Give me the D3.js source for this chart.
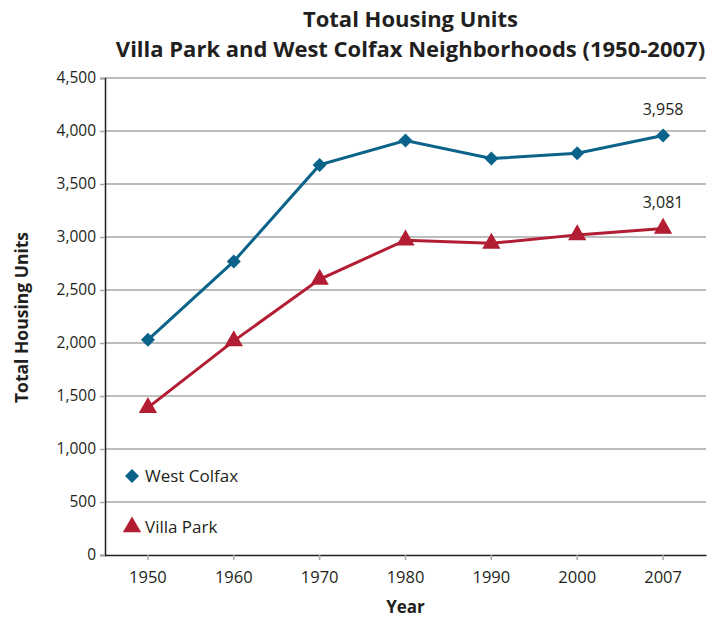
<!DOCTYPE html>
<html>
<head>
<meta charset="utf-8">
<script src="https://cdn.jsdelivr.net/npm/d3@7"></script>
<style>
  body { margin: 0; background: #fff; }
  svg text { font-family: "Open Sans", "Noto Sans", sans-serif; fill: #231f20; }
</style>
</head>
<body>
<div id="chart"></div>
<script>
var years = ["1950", "1960", "1970", "1980", "1990", "2000", "2007"];
var westColfax = [2030, 2770, 3680, 3910, 3740, 3790, 3958];
var villaPark = [1390, 2020, 2600, 2970, 2940, 3020, 3081];
var yTicks = [0, 500, 1000, 1500, 2000, 2500, 3000, 3500, 4000, 4500];
var titleLines = ["Total Housing Units", "Villa Park and West Colfax Neighborhoods (1950-2007)"];

var series = [
    { name: "West Colfax", values: westColfax, color: "#0b6389", symbol: d3.symbolDiamond2, size: 125 },
    { name: "Villa Park", values: villaPark, color: "#b21d33", symbol: d3.symbolTriangle, size: 145 }
];

var W = 714, H = 617;
var margin = { top: 78, right: 8, bottom: 62, left: 105 },
    width = W - margin.left - margin.right,
    height = H - margin.top - margin.bottom;

var svg = d3.select("#chart").append("svg")
    .attr("width", W)
    .attr("height", H);

var g = svg.append("g")
    .attr("transform", "translate(" + margin.left + "," + margin.top + ")");

var x = d3.scaleBand().domain(years).range([0, width]);
var y = d3.scaleLinear().domain([0, 4500]).range([height, 0]);

// gridlines
g.append("g")
    .selectAll("line")
    .data(yTicks.slice(1))
    .join("line")
    .attr("x1", 0)
    .attr("x2", width)
    .attr("y1", d => y(d))
    .attr("y2", d => y(d))
    .attr("stroke", "#a7a7a7")
    .attr("stroke-width", 1.5);

// y axis
var yAxis = g.append("g")
    .call(d3.axisLeft(y).tickValues(yTicks).tickSize(5).tickPadding(4).tickFormat(d3.format(",")));
yAxis.select(".domain").attr("stroke", "#231f20").attr("stroke-width", 1.5);
yAxis.selectAll(".tick line").attr("stroke", "#a7a7a7").attr("stroke-width", 1.5);
yAxis.selectAll("text").style("font-size", "15.5px").attr("fill", "#231f20");

// x axis
var xAxis = g.append("g")
    .attr("transform", "translate(0," + height + ")")
    .call(d3.axisBottom(x).tickSize(5).tickSizeOuter(0).tickPadding(11));
xAxis.select(".domain").attr("stroke", "#231f20").attr("stroke-width", 1.5);
xAxis.selectAll(".tick line").attr("stroke", "#a7a7a7").attr("stroke-width", 1.5);
xAxis.selectAll("text").style("font-size", "16.5px").attr("fill", "#231f20");

// lines and markers
var line = d3.line()
    .x((d, i) => x(years[i]) + x.bandwidth() / 2)
    .y(d => y(d));

series.forEach(function (s) {
    g.append("path")
        .datum(s.values)
        .attr("fill", "none")
        .attr("stroke", s.color)
        .attr("stroke-width", 3)
        .attr("d", line);

    g.selectAll(null)
        .data(s.values)
        .join("path")
        .attr("transform", (d, i) => "translate(" + (x(years[i]) + x.bandwidth() / 2) + "," + y(d) + ")")
        .attr("d", d3.symbol().type(s.symbol).size(s.size))
        .attr("fill", s.color);

    // label last value
    var last = s.values[s.values.length - 1];
    g.append("text")
        .attr("x", x(years[years.length - 1]) + x.bandwidth() / 2)
        .attr("y", y(last) - 20)
        .attr("text-anchor", "middle")
        .style("font-size", "16px")
        .text(d3.format(",")(last));
});

// legend
var legend = g.append("g");
series.forEach(function (s, i) {
    var ly = y(0) - 79 + i * 51;
    legend.append("path")
        .attr("transform", "translate(27," + ly + ")")
        .attr("d", d3.symbol().type(s.symbol).size(s.size))
        .attr("fill", s.color);
    legend.append("text")
        .attr("x", 40)
        .attr("y", ly + 6)
        .style("font-size", "17px")
        .text(s.name);
});

// titles
svg.append("text")
    .attr("text-anchor", "middle")
    .style("font-size", "22px")
    .style("font-weight", "bold")
    .selectAll("tspan")
    .data(titleLines)
    .join("tspan")
    .attr("x", margin.left + width / 2 + 5)
    .attr("y", (d, i) => 27 + i * 30)
    .text(d => d);

svg.append("text")
    .attr("x", margin.left + width / 2)
    .attr("y", 613)
    .attr("text-anchor", "middle")
    .style("font-size", "17px")
    .style("font-weight", "bold")
    .text("Year");

svg.append("text")
    .attr("transform", "translate(28," + (margin.top + height / 2 + 1) + ") rotate(-90)")
    .attr("text-anchor", "middle")
    .style("font-size", "17.5px")
    .style("font-weight", "bold")
    .text("Total Housing Units");
</script>
</body>
</html>
